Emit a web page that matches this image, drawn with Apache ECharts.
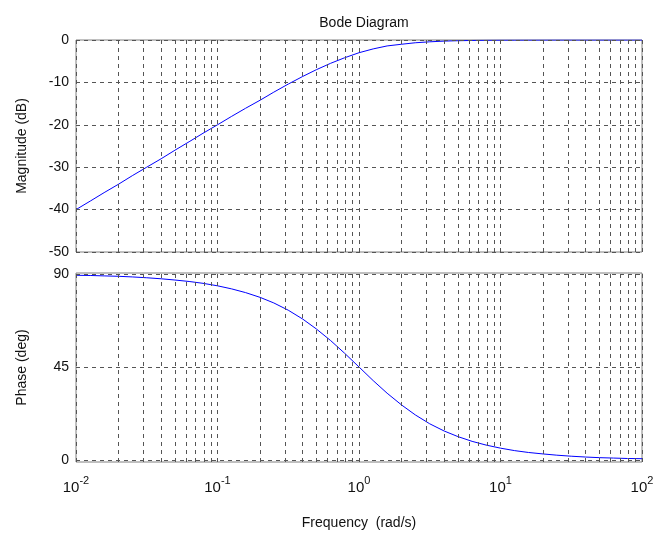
<!DOCTYPE html>
<html>
<head>
<meta charset="utf-8">
<script src="https://cdn.jsdelivr.net/npm/echarts@6/dist/echarts.min.js"></script>
<style>html,body{margin:0;padding:0;background:#fff}#c{width:663px;height:534px}</style>
</head>
<body>
<div id="c"></div>
<script>
// Frequencies (rad/s)
const freq = [0.01,0.0126,0.0158,0.02,0.025,0.0316,0.04,0.05,0.063,0.079,
  0.1,0.126,0.158,0.2,0.25,0.316,0.4,0.5,0.63,0.79,
  1,1.26,1.58,2,2.5,3.16,4,5,6.3,7.9,
  10,12.6,15.8,20,25,31.6,40,50,63,79,100];
// Magnitude (dB)
const magnitude = [-40,-38,-36,-34,-32,-30,-28,-26,-24,-22,
  -20,-18,-16.1,-14.2,-12.3,-10.4,-8.6,-7.0,-5.5,-4.2,
  -3.0,-2.1,-1.4,-1.0,-0.65,-0.43,-0.26,-0.17,-0.11,-0.07,
  -0.04,-0.03,-0.02,-0.01,0,0,0,0,0,0,0];
// Phase (deg)
const phase = [89.4,89.3,89.1,88.9,88.6,88.2,87.7,87.1,86.4,85.5,
  84.3,82.8,81.0,78.7,76.0,72.5,68.2,63.4,57.8,51.7,
  45,38.4,32.3,26.6,21.8,17.5,14.0,11.3,9.0,7.2,
  5.7,4.5,3.6,2.9,2.3,1.8,1.4,1.1,0.9,0.7,0.6];
// Tick values
const xGrid = [0.01,0.02,0.03,0.04,0.05,0.06,0.07,0.08,0.09,
  0.1,0.2,0.3,0.4,0.5,0.6,0.7,0.8,0.9,
  1,2,3,4,5,6,7,8,9,
  10,20,30,40,50,60,70,80,90,100];
const xLabels = [0.01,0.1,1,10,100];
const magTicks = [0,-10,-20,-30,-40,-50];
const phaseTicks = [0,45,90];

const FONT = '"Liberation Sans", Arial, sans-serif';
const TXT = '#111';
const gridLine = {color:'#555', width:1, type:[4,4]};

function pairs(ys){ return freq.map((f,i)=>[f, ys[i]]); }

function gridSeries(idx, yTicks){
  return {
    type:'line', xAxisIndex:idx, yAxisIndex:idx, data:[], z:1, silent:true,
    markLine:{
      silent:true, symbol:['none','none'], animation:false,
      label:{show:false}, lineStyle:gridLine,
      emphasis:{disabled:true},
      data: xGrid.map(v=>({xAxis:v})).concat(yTicks.map(v=>({yAxis:v})))
    }
  };
}

const xBase = {
  type:'log', logBase:10, min:0.01, max:100,
  axisLine:{show:false}, splitLine:{show:false}, minorSplitLine:{show:false},
  axisTick:{show:false}
};

const chart = echarts.init(document.getElementById('c'), null, {renderer:'canvas'});
chart.setOption({
  animation:false,
  backgroundColor:'#fff',
  title:{
    text:'Bode Diagram', left:359, top:11, textAlign:'center',
    textStyle:{fontFamily:FONT, fontSize:14, fontWeight:'normal', color:TXT}
  },
  grid:[
    {left:76, right:21, top:40, height:212, show:true, borderColor:'#808080', borderWidth:1, backgroundColor:'transparent'},
    {left:76, right:21, top:273, height:189, show:true, borderColor:'#808080', borderWidth:1, backgroundColor:'transparent'}
  ],
  xAxis:[
    Object.assign({}, xBase, {gridIndex:0, axisLabel:{show:false}}),
    Object.assign({}, xBase, {gridIndex:1,
      name:'Frequency  (rad/s)', nameLocation:'middle', nameGap:54,
      nameTextStyle:{fontFamily:FONT, fontSize:14, color:TXT},
      axisLabel:{
        show:true, margin:13, customValues:xLabels,
        formatter:function(v){ return '{a|10}{b|' + Math.round(Math.log10(v)) + '}'; },
        rich:{
          a:{fontFamily:FONT, fontSize:15, color:TXT},
          b:{fontFamily:FONT, fontSize:11, color:TXT, padding:[0,0,15,0]}
        }
      }})
  ],
  yAxis:[
    {gridIndex:0, type:'value', min:-50, max:0, interval:10,
      name:'Magnitude (dB)', nameLocation:'middle', nameGap:47,
      nameTextStyle:{fontFamily:FONT, fontSize:14, color:TXT},
      axisLine:{show:false}, splitLine:{show:false},
      axisTick:{show:true, inside:true, length:4, lineStyle:{color:'#808080'}},
      axisLabel:{fontFamily:FONT, fontSize:14, color:TXT, margin:7}},
    {gridIndex:1, type:'value', min:-1, max:90.5,
      name:'Phase (deg)', nameLocation:'middle', nameGap:47,
      nameTextStyle:{fontFamily:FONT, fontSize:14, color:TXT},
      axisLine:{show:false}, splitLine:{show:false},
      axisTick:{show:true, inside:true, length:4, customValues:phaseTicks, lineStyle:{color:'#808080'}},
      axisLabel:{fontFamily:FONT, fontSize:14, color:TXT, margin:7, customValues:phaseTicks}}
  ],
  series:[
    gridSeries(0, magTicks),
    gridSeries(1, phaseTicks),
    {type:'line', xAxisIndex:0, yAxisIndex:0, data:pairs(magnitude), showSymbol:false, z:3,
      lineStyle:{color:'#0000ff', width:1}, itemStyle:{color:'#0000ff'}},
    {type:'line', xAxisIndex:1, yAxisIndex:1, data:pairs(phase), showSymbol:false, z:3,
      lineStyle:{color:'#0000ff', width:1}, itemStyle:{color:'#0000ff'}}
  ]
});
</script>
</body>
</html>
